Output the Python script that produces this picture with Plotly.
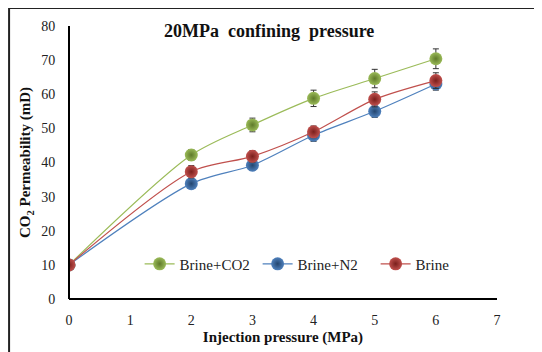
import plotly.graph_objects as go

x_vals = [0, 2, 3, 4, 5, 6]
brine_co2 = [10, 42.2, 51.0, 58.8, 64.6, 70.4]
brine_co2_err = [0.5, 1.6, 2.0, 2.4, 2.7, 2.9]
brine_n2 = [10, 33.8, 39.2, 48.0, 55.0, 63.0]
brine_n2_err = [0.5, 1.4, 1.5, 1.8, 1.8, 1.8]
brine = [10, 37.3, 41.8, 49.0, 58.5, 64.0]
brine_err = [0.5, 1.8, 1.7, 1.7, 2.2, 2.3]

series = [
    ("Brine+CO2", brine_co2, brine_co2_err, "#9BBB59", "#5f7a2a"),
    ("Brine+N2", brine_n2, brine_n2_err, "#4F81BD", "#24466f"),
    ("Brine", brine, brine_err, "#C0504D", "#7a1f1c"),
]

serif = "Liberation Serif, Times New Roman, serif"
fig = go.Figure()
for name, ys, errs, col, dark in series:
    fig.add_trace(go.Scatter(
        x=x_vals, y=ys, name=name, mode="lines+markers",
        line=dict(color=col, width=1.2, shape="spline", smoothing=0.8),
        marker=dict(size=13, color=col, line=dict(width=0),
                    gradient=dict(type="radial", color=dark)),
        error_y=dict(type="data", array=errs, visible=True, color="#333333",
                     thickness=1, width=3),
    ))

fig.update_layout(
    width=534, height=344,
    margin=dict(l=61, r=45, t=18, b=53),
    paper_bgcolor="white", plot_bgcolor="white",
    font=dict(family=serif, size=14, color="#222222"),
    showlegend=True,
    legend=dict(orientation="h", x=0.165, y=0.128,
                xanchor="left", yanchor="middle",
                font=dict(size=15, family=serif, color="#222222"),
                bgcolor="rgba(0,0,0,0)", itemwidth=30, traceorder="normal",
                entrywidth=73, entrywidthmode="pixels"),
    annotations=[dict(text="<b>20MPa  confining  pressure</b>", x=0.467, y=0.98,
                      xref="paper", yref="paper", yanchor="middle", showarrow=False,
                      font=dict(size=18, family=serif, color="#111111"))],
    shapes=[
        dict(type="line", xref="paper", yref="paper", x0=-0.14, x1=1.2,
             y0=1.066, y1=1.066, line=dict(color="#222222", width=2)),
        dict(type="line", xref="paper", yref="paper", x0=-0.14, x1=-0.14,
             y0=1.066, y1=-0.3, line=dict(color="#222222", width=2)),
        dict(type="line", xref="paper", yref="paper", x0=0, x1=1, y0=0, y1=0,
             layer="above", line=dict(color="black", width=2)),
        dict(type="line", xref="paper", yref="paper", x0=0, x1=0, y0=0, y1=1,
             layer="above", line=dict(color="black", width=2)),
    ],
)
fig.update_xaxes(range=[0, 7], dtick=1, showgrid=False, zeroline=False,
                 showline=False,
                 ticks="outside", ticklen=8, tickcolor="rgba(0,0,0,0)",
                 automargin=False,
                 tickfont=dict(size=14, family=serif),
                 title=dict(text="<b>Injection pressure (MPa)</b>",
                            font=dict(size=15, family=serif, color="#111111"), standoff=4))
fig.update_yaxes(range=[0, 80], dtick=10, showgrid=False, zeroline=False,
                 showline=False,
                 ticks="outside", ticklen=10, tickcolor="rgba(0,0,0,0)",
                 automargin=False,
                 tickfont=dict(size=14, family=serif),
                 title=dict(text="<b>CO<sub>2</sub> Permeability (mD)</b>",
                            font=dict(size=15, family=serif, color="#111111"), standoff=6))

fig.write_html("out.html")
